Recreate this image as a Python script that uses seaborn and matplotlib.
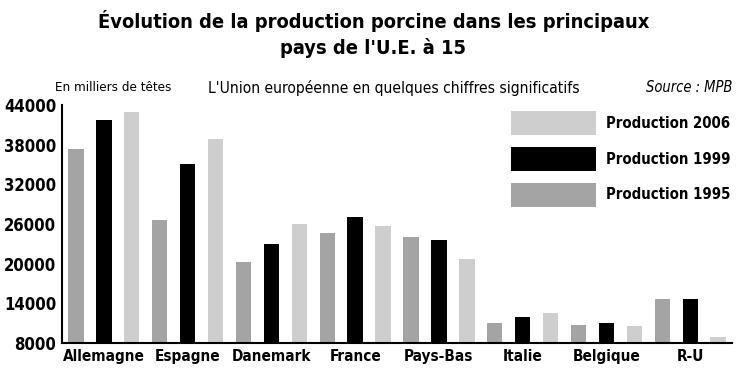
import matplotlib
matplotlib.use("Agg")
import matplotlib.pyplot as plt
import seaborn as sns
import pandas as pd
from matplotlib.patches import Patch
from matplotlib.ticker import FixedLocator

# -------------------------------
# Data (milliers de têtes)
# -------------------------------
pays = ["Allemagne", "Espagne", "Danemark", "France", "Pays-Bas", "Italie", "Belgique", "R-U"]
prod_1995 = [37300, 26600, 20300, 24600, 24100, 11000, 10700, 14700]
prod_1999 = [41700, 35100, 23000, 27100, 23600, 11900, 11000, 14700]
prod_2006 = [42900, 38900, 26000, 25700, 20700, 12600, 10600, 8900]
series = ["Production 1995", "Production 1999", "Production 2006"]
couleurs = ["#a4a4a4", "#000000", "#cecece"]
yticks = [8000, 14000, 20000, 26000, 32000, 38000, 44000]

df = pd.DataFrame({
    "Pays": pays * 3,
    "Serie": [s for s in series for _ in pays],
    "Valeur": prod_1995 + prod_1999 + prod_2006,
})

sns.set_theme(style="white")
plt.rcParams["font.family"] = ["DejaVu Sans"]
plt.rcParams["font.stretch"] = "condensed"
plt.rcParams["text.color"] = "black"
plt.rcParams["xtick.color"] = "black"
plt.rcParams["ytick.color"] = "black"

fig = plt.figure(figsize=(7.47, 3.82), dpi=100)
ax = fig.add_axes([0.083, 0.102, 0.897, 0.623])

sns.barplot(data=df, x="Pays", y="Valeur", hue="Serie", hue_order=series,
            palette=couleurs, width=1.0, gap=0.45, saturation=1,
            linewidth=0, legend=False, ax=ax)

ax.set_xlim(-0.5, 7.5)
ax.set_ylim(8000, 44000)
ax.set_yticks(yticks)
ax.set_yticklabels([str(v) for v in yticks], fontweight="bold", fontsize=12,
                   fontstretch="condensed")
ax.set_xticks(range(len(pays)))
ax.set_xticklabels(pays, fontweight="bold", fontsize=11, fontstretch="condensed")
ax.set_xlabel("")
ax.set_ylabel("")

ax.set_axisbelow(True)
for s in ["top", "right"]:
    ax.spines[s].set_visible(False)
for s in ["left", "bottom"]:
    ax.spines[s].set_color("black")
    ax.spines[s].set_linewidth(1.5)

ax.tick_params(axis="y", direction="in", length=18, width=1.5, color="black", pad=4)
ax.tick_params(axis="x", which="major", length=0, pad=4)
ax.xaxis.set_minor_locator(FixedLocator([i + 0.5 for i in range(len(pays))]))
ax.tick_params(axis="x", which="minor", direction="in", length=4, width=1.5, color="black")

# legend in reversed order like the original
handles = [Patch(facecolor=c, edgecolor="none") for c in couleurs][::-1]
ax.legend(handles, series[::-1], loc="upper left", bbox_to_anchor=(0.65, 1.03),
          frameon=False, handlelength=5.72, handleheight=2.11, labelspacing=0.78,
          handletextpad=0.67,
          prop={"weight": "bold", "size": 10.7, "stretch": "condensed"})

# titles and annotations
fig.text(0.5, 0.945, "Évolution de la production porcine dans les principaux",
         ha="center", va="center", fontsize=14.4, fontweight="bold")
fig.text(0.5, 0.875, "pays de l'U.E. à 15",
         ha="center", va="center", fontsize=14.4, fontweight="bold")
fig.text(0.074, 0.77, "En milliers de têtes", ha="left", va="center", fontsize=9.6)
fig.text(0.278, 0.77, "L'Union européenne en quelques chiffres significatifs",
         ha="left", va="center", fontsize=11.2)
fig.text(0.981, 0.77, "Source : MPB", ha="right", va="center", fontsize=10.5,
         style="italic")

plt.savefig("out.png", dpi=100)
